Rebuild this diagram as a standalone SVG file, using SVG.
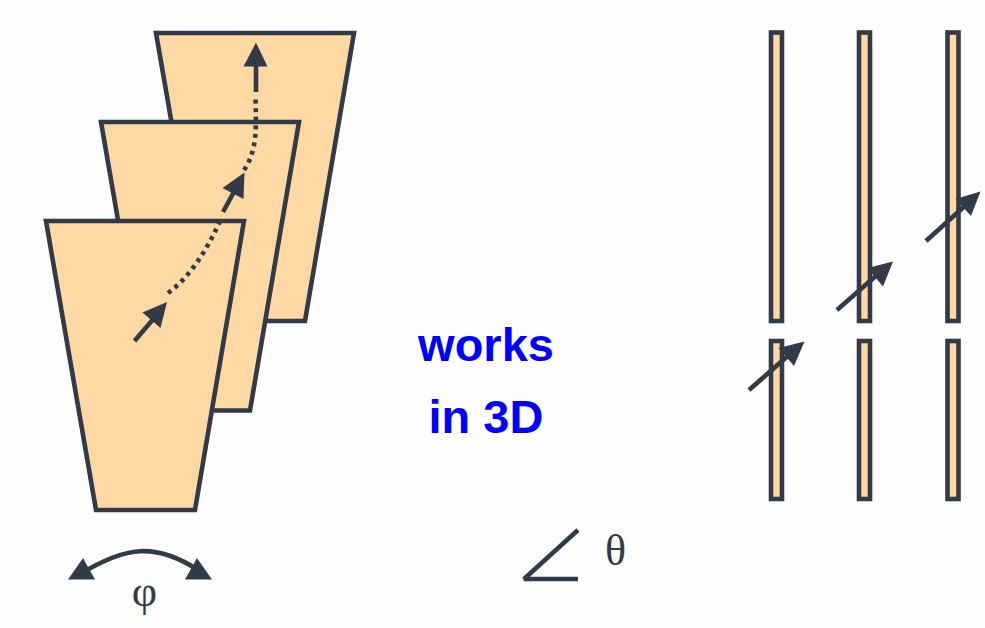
<svg xmlns="http://www.w3.org/2000/svg" width="985" height="628" viewBox="0 0 985 628">
<style>
.p{fill:#fed9a3;stroke:#333a47;stroke-width:4.6;stroke-linejoin:miter}
.l{fill:none;stroke:#333a47;stroke-width:4.6}
.d{fill:none;stroke:#333a47;stroke-width:4.6;stroke-dasharray:4 4.6}
.h{fill:#333a47}
.g{font-family:"Liberation Serif",serif;font-size:44px;fill:#333a47;text-anchor:middle}
.b{font-family:"Liberation Sans",Arial,sans-serif;font-weight:bold;font-size:47px;fill:#0000ff;text-anchor:middle}
</style>
<rect width="985" height="628" fill="#fdfdfe"/>
<g id="plane-back"><path class="p" d="M156 33H354L305 321H206Z"/></g>
<g id="plane-middle"><path class="p" d="M101 122H299L250 410.500H151Z"/></g>
<g id="plane-front"><path class="p" d="M46 221H244L195 510H96Z"/></g>
<g id="bar-1-top"><rect class="p" x="771" y="32.500" width="11" height="288.500"/></g>
<g id="bar-2-top"><rect class="p" x="859" y="32.500" width="11" height="288.500"/></g>
<g id="bar-3-top"><rect class="p" x="947.500" y="32.500" width="11" height="288.500"/></g>
<g id="bar-1-bottom"><rect class="p" x="771" y="341" width="11" height="158"/></g>
<g id="bar-2-bottom"><rect class="p" x="859" y="341" width="11" height="158"/></g>
<g id="bar-3-bottom"><rect class="p" x="947.500" y="341" width="11" height="158"/></g>
<g id="connectors">
<path class="l" d="M134.500 341L155 317"/><path class="h" d="M167 302L142.500 312.500L160.500 328Z"/>
<path class="d" d="M168 293C190 277 207 250 221 219"/>
<path class="l" d="M223 212L235 190"/><path class="h" d="M244.500 172.500L222.500 188L243.500 199Z"/>
<path class="d" d="M244 170C258 150 256 125 255.500 96"/>
<path class="l" d="M256 92V62"/><path class="h" d="M256 42.500L243.500 66.500H267.500Z"/>
<path class="l" d="M82 573C125 547 155 542 198 570"/>
<path class="h" d="M68 579.500L83 558L95 579.500Z"/><path class="h" d="M212 579.500L197 558L185 579.500Z"/>
<path class="l" stroke-linejoin="bevel" d="M578 530L524 579H578"/>
<path class="l" d="M749 390L790 354"/><path class="h" d="M804.500 341.500L778.500 348L794 366Z"/>
<path class="l" d="M837 310L878 274"/><path class="h" d="M893 261.500L867.500 268L883 286.500Z"/>
<path class="l" d="M926 241L967 204"/><path class="h" d="M980.500 191.500L955.500 199L971 216Z"/>
</g>
<text class="g" x="144.500" y="606">φ</text>
<text class="g" x="615.500" y="565">θ</text>
<text class="b" x="486" y="361">works</text>
<text class="b" x="486" y="433">in 3D</text>
</svg>
